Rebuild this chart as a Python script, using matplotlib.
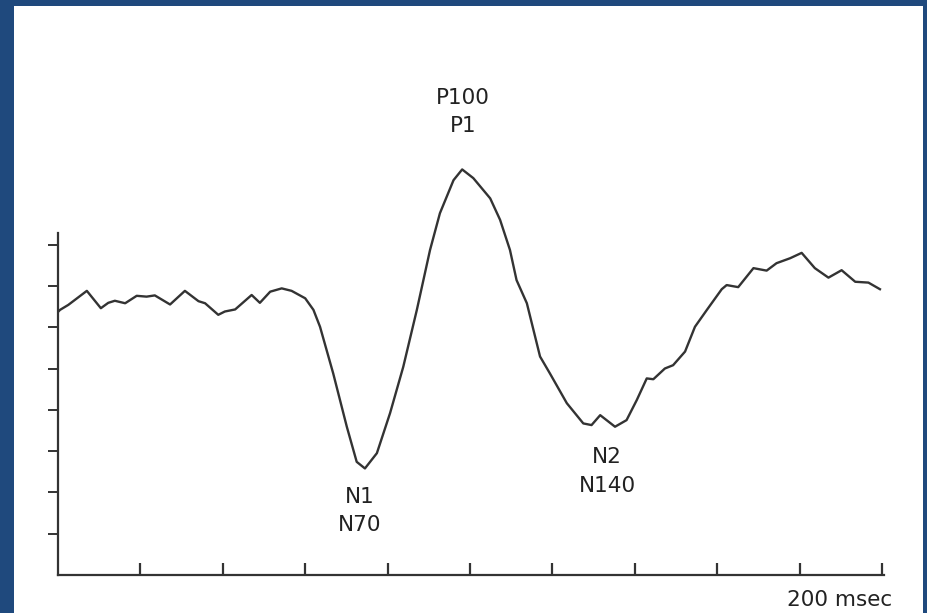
import matplotlib
matplotlib.use("Agg")
import matplotlib.pyplot as plt
from matplotlib.patches import Rectangle

# time (msec) and amplitude (arbitrary units, one unit per y tick)
time_ms = [0.0, 0.5, 2.5, 7.0, 10.4, 12.2, 13.8, 16.3, 19.1, 21.5, 23.5, 27.2, 30.8,
           34.1, 35.7, 38.9, 40.5, 43.0, 47.0, 49.0, 51.5, 54.3, 56.7, 60.0, 62.0,
           63.6, 66.8, 70.1, 72.5, 74.5, 77.4, 80.6, 83.8, 87.1, 90.3, 92.7, 96.0,
           98.1, 100.8, 104.9, 107.3, 109.7, 111.3, 113.8, 117.0, 119.4, 123.5,
           127.5, 129.5, 131.6, 135.2, 138.0, 140.5, 142.9, 144.5, 147.3, 149.3,
           152.2, 154.6, 157.5, 161.1, 162.3, 165.1, 168.8, 172.0, 174.4, 177.7,
           180.5, 183.7, 187.0, 190.2, 193.5, 196.7, 199.5]
amplitude = [6.37, 6.42, 6.54, 6.88, 6.46, 6.59, 6.64, 6.58, 6.76, 6.74, 6.77, 6.55, 6.88,
             6.63, 6.58, 6.30, 6.38, 6.43, 6.78, 6.59, 6.86, 6.94, 6.88, 6.70, 6.42,
             6.01, 4.88, 3.59, 2.74, 2.58, 2.95, 3.92, 5.04, 6.42, 7.87, 8.76, 9.56,
             9.82, 9.61, 9.12, 8.60, 7.87, 7.14, 6.58, 5.29, 4.88, 4.16,
             3.67, 3.63, 3.87, 3.59, 3.75, 4.24, 4.76, 4.74, 5.00, 5.08,
             5.41, 6.01, 6.42, 6.92, 7.02, 6.97, 7.43, 7.37, 7.55, 7.67,
             7.80, 7.43, 7.20, 7.38, 7.10, 7.08, 6.92]

x_ticks = [20, 40, 60, 80, 100, 120, 140, 160, 180, 200]
y_ticks = [1, 2, 3, 4, 5, 6, 7, 8]

peak_labels = [("P100\nP1", 98.3, 11.21), ("N1\nN70", 73.3, 1.55), ("N2\nN140", 133.3, 2.51)]
x_label = "200 msec"

W, H = 928, 613
fig = plt.figure(figsize=(W / 100, H / 100), dpi=100)
fig.patch.set_facecolor("#1f497d")
fig.patches.append(Rectangle((14 / W, 0), (923 - 14) / W, (613 - 6) / H,
                             transform=fig.transFigure, facecolor="white",
                             edgecolor="none", zorder=-10))

ax_left, ax_right = 58, 882
ax_bottom, ax_top = 575, 60
ax = fig.add_axes([ax_left / W, (H - ax_bottom) / H, (ax_right - ax_left) / W,
                   (ax_bottom - ax_top) / H])
ax.set_zorder(5)
ax.set_facecolor("none")
unit = 41.3
ax.set_xlim(0, 200)
ax.set_ylim(0, (ax_bottom - ax_top) / unit)

ax.plot(time_ms, amplitude, color="#333333", lw=1.7, solid_joinstyle="round")

for s in ["top", "right"]:
    ax.spines[s].set_visible(False)
for s in ["left", "bottom"]:
    ax.spines[s].set_linewidth(1.6)
    ax.spines[s].set_color("#333333")
ax.spines["left"].set_bounds(0, (ax_bottom - 233) / unit)
ax.spines["bottom"].set_bounds(0, 200.5)

ax.set_xticks(x_ticks)
ax.set_yticks(y_ticks)
ax.set_xticklabels([])
ax.set_yticklabels([])
ax.tick_params(axis="x", direction="in", length=9, width=1.6, color="#333333")
ax.tick_params(axis="y", direction="out", length=7, width=1.4, color="#333333")

fs = 15.5
for txt, xv, yv in peak_labels:
    ax.text(xv, yv, txt, ha="center", va="center", fontsize=fs, color="#222222",
            linespacing=1.55, clip_on=False, family="DejaVu Sans")
ax.text(189.8, -0.605, x_label, ha="center", va="center", fontsize=fs,
        color="#222222", clip_on=False, family="DejaVu Sans")

fig.savefig("out.png", dpi=100, facecolor=fig.get_facecolor())
